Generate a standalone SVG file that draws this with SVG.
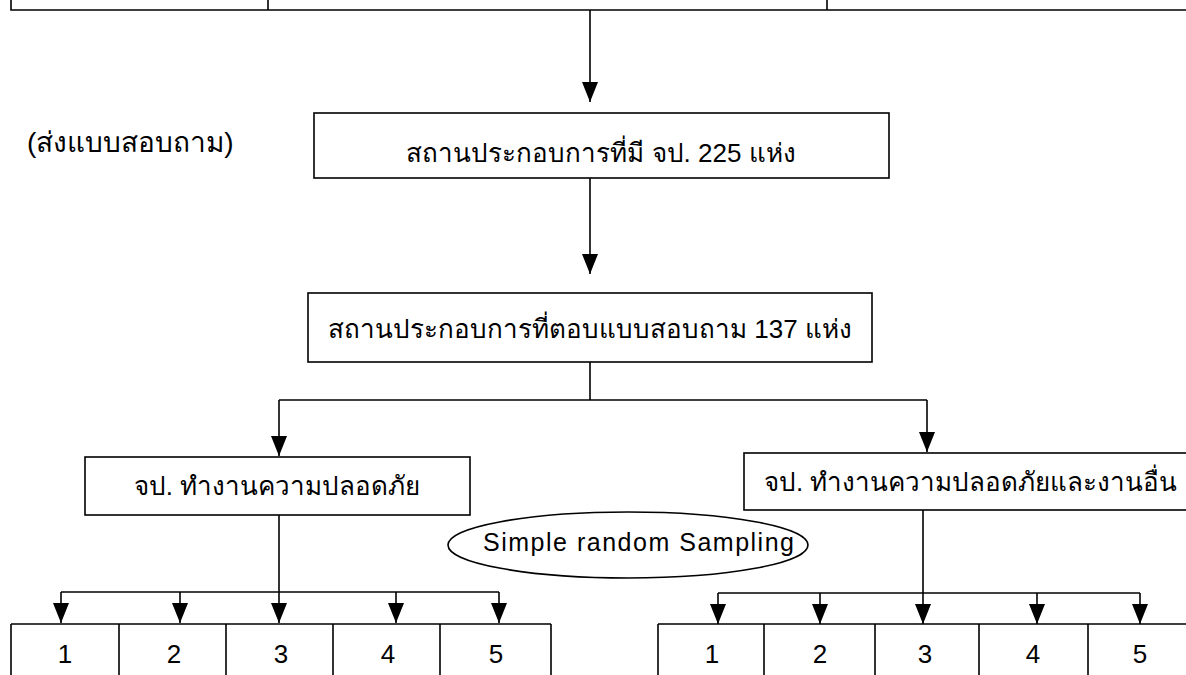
<svg xmlns="http://www.w3.org/2000/svg" width="1186" height="675" viewBox="0 0 1186 675">
<style>
.b{fill:#fff;stroke:#000;stroke-width:1.6}
.c{fill:none;stroke:#000;stroke-width:1.6}
.t{font-family:"Liberation Sans","Noto Sans",sans-serif;font-size:26px;fill:#000}
.m{text-anchor:middle}
</style>
<defs>
<marker id="d" markerWidth="20" markerHeight="16" refX="20" refY="8" orient="auto" markerUnits="userSpaceOnUse" viewBox="0 0 20 16">
<path d="M0,0 L20,8 L0,16 Z" fill="#000"/>
</marker>
</defs>
<rect width="1186" height="675" fill="#fff"/>
<g id="top-boxes">
<path class="c" d="M11,0 V10 H1186 M268,0 V10 M827,0 V10"/>
</g>
<g id="connectors">
<path class="c" d="M590,10 V102" marker-end="url(#d)"/>
<path class="c" d="M590,178 V274" marker-end="url(#d)"/>
<path class="c" d="M590,362 V400 M279,400 H927"/>
<path class="c" d="M279,400 V456" marker-end="url(#d)"/>
<path class="c" d="M927,400 V452" marker-end="url(#d)"/>
<path class="c" d="M279,515 V623" marker-end="url(#d)"/>
<path class="c" d="M61,592 H499"/>
<path class="c" d="M61,592 V623" marker-end="url(#d)"/>
<path class="c" d="M180,592 V623" marker-end="url(#d)"/>
<path class="c" d="M396,592 V623" marker-end="url(#d)"/>
<path class="c" d="M499,592 V623" marker-end="url(#d)"/>
<path class="c" d="M923,510 V624" marker-end="url(#d)"/>
<path class="c" d="M718,593 H1140"/>
<path class="c" d="M718,593 V624" marker-end="url(#d)"/>
<path class="c" d="M820,593 V624" marker-end="url(#d)"/>
<path class="c" d="M1037,593 V624" marker-end="url(#d)"/>
<path class="c" d="M1140,593 V624" marker-end="url(#d)"/>
</g>
<g id="label-send">
<text class="t" x="27" y="152" style="font-size:28px">(ส่งแบบสอบถาม)</text>
</g>
<g id="n1">
<rect class="b" x="314" y="113" width="575" height="65"/>
<text class="t m" x="601" y="162">สถานประกอบการที่มี จป. 225 แห่ง</text>
</g>
<g id="n2">
<rect class="b" x="308" y="293" width="564" height="69"/>
<text class="t m" x="590" y="338">สถานประกอบการที่ตอบแบบสอบถาม 137 แห่ง</text>
</g>
<g id="n3">
<rect class="b" x="85" y="457" width="385" height="58"/>
<text class="t m" x="277" y="495">จป. ทำงานความปลอดภัย</text>
</g>
<g id="n4">
<rect class="b" x="744" y="453" width="460" height="57"/>
<text class="t" x="764" y="491">จป. ทำงานความปลอดภัยและงานอื่น</text>
</g>
<g id="ellipse">
<ellipse class="b" cx="628" cy="545" rx="180" ry="33"/>
<text class="t" x="483" y="551" style="font-size:25px" textLength="311" lengthAdjust="spacing">Simple  random  Sampling</text>
</g>
<g id="left-row">
<path class="c" d="M11,624 H551 M11,624 V675 M119,624 V675 M226,624 V675 M333,624 V675 M440,624 V675 M551,624 V675"/>
<text class="t m" x="65" y="663">1</text>
<text class="t m" x="174" y="663">2</text>
<text class="t m" x="281" y="663">3</text>
<text class="t m" x="388" y="663">4</text>
<text class="t m" x="496" y="663">5</text>
</g>
<g id="right-row">
<path class="c" d="M658,624 H1186 M658,624 V675 M764,624 V675 M875,624 V675 M979,624 V675 M1088,624 V675"/>
<text class="t m" x="712" y="663">1</text>
<text class="t m" x="820" y="663">2</text>
<text class="t m" x="925" y="663">3</text>
<text class="t m" x="1033" y="663">4</text>
<text class="t m" x="1140" y="663">5</text>
</g>
</svg>
